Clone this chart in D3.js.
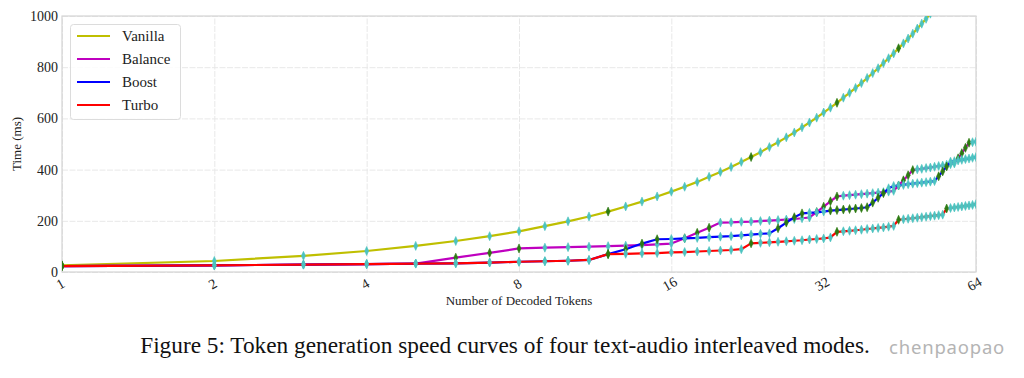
<!DOCTYPE html>
<html>
<head>
<meta charset="utf-8">
<script src="https://cdn.jsdelivr.net/npm/d3@7/dist/d3.min.js"></script>
<style>
  html, body { margin: 0; padding: 0; background: #fff; }
  svg { display: block; }
</style>
</head>
<body>
<svg id="chart" width="1024" height="378"></svg>
<script>
// ---- data ----
const tokens = d3.range(1, 65); // 1..64 decoded tokens
const xTicks = [1, 2, 4, 8, 16, 32, 64];
const yTicks = [0, 200, 400, 600, 800, 1000];
const seriesNames = ["Vanilla", "Balance", "Boost", "Turbo"];

const vanilla = [26,43,63,82,102,121,140,159,179,198,217,236,256,275,295,314,
  333,352,372,391,410,430,449,468,488,507,526,545,565,584,603,623,
  642,661,681,700,719,738,758,777,796,816,835,854,874,893,912,931,
  951,970,989,1009,1028,1047,1067,1086,1105,1124,1144,1163,1182,1202,1221,1240];
const balance = [23,26,29,31,33,56,75,92,95,97,99,101,103,105,108,111,
  132,153,173,193,194,196,197,199,201,203,205,207,210,213,234,255,
  276,295,298,300,302,304,306,308,310,312,314,317,338,358,378,398,
  401,403,406,408,411,414,416,419,421,424,444,464,485,505,507,509];
const boost = [23,26,29,31,33,34,37,40,42,44,47,70,89,111,128,129,
  131,133,136,138,140,143,146,149,151,171,193,214,229,231,233,236,
  240,242,244,246,248,250,253,271,290,308,327,336,338,340,343,345,
  347,349,351,353,355,374,393,412,431,433,436,438,441,443,446,449];
const turbo = [23,26,29,31,33,34,37,40,42,44,47,70,71,73,74,77,
  78,80,82,84,86,89,112,114,116,118,120,122,124,127,129,131,
  135,157,159,161,163,165,168,170,172,174,177,180,204,206,208,210,
  212,214,216,218,220,222,224,248,250,252,254,256,258,260,262,265];

// tokens drawn with the dark-green marker (others use the cyan marker)
const vanillaText = [1, 12, 23, 34, 45, 56];
const balanceText = [1, 6, 7, 8, 17, 18, 19, 31, 32, 33, 34, 45, 46, 47, 48, 59, 60, 61, 62];
const boostText = [1, 12, 13, 14, 15, 26, 27, 28, 29, 33, 34, 35, 36, 37, 38, 39, 40, 41, 42, 54, 55, 56];
const turboText = [1, 12, 23, 34, 45, 56];

// ---- layout ----
const svg = d3.select("#chart");
const L = 62, R = 976, T = 16, B = 272;
const x = d3.scaleLog().base(2).domain([1, 64]).range([L, R]);
const y = d3.scaleLinear().domain([0, 1000]).range([B, T]);
const serif = "'Liberation Serif', 'DejaVu Serif', serif";

const series = [
  { name: seriesNames[0], values: vanilla, text: vanillaText, color: "#bfbf00" },
  { name: seriesNames[1], values: balance, text: balanceText, color: "#bf00bf" },
  { name: seriesNames[2], values: boost, text: boostText, color: "#0000ff" },
  { name: seriesNames[3], values: turbo, text: turboText, color: "#ff0000" }
];

svg.append("defs").append("clipPath").attr("id", "plotclip")
  .append("rect").attr("x", L).attr("y", T).attr("width", R - L).attr("height", B - T);

// grid
const gx = svg.append("g").attr("transform", `translate(0,${B})`)
  .call(d3.axisBottom(x).tickValues(xTicks).tickSize(-(B - T)).tickFormat(""));
const gy = svg.append("g").attr("transform", `translate(${L},0)`)
  .call(d3.axisLeft(y).tickValues(yTicks).tickSize(-(R - L)).tickFormat(""));
[gx, gy].forEach(g => {
  g.select(".domain").remove();
  g.selectAll("line").attr("stroke", "#e8e8e8").attr("stroke-width", 1).attr("stroke-dasharray", "6,1.5");
});

// frame
svg.append("rect").attr("x", L).attr("y", T).attr("width", R - L).attr("height", B - T)
  .attr("fill", "none").attr("stroke", "#d4d4d4").attr("stroke-width", 1.2);

// tick labels
const xl = svg.append("g").attr("transform", `translate(0,${B})`)
  .call(d3.axisBottom(x).tickValues(xTicks).tickSize(0).tickPadding(6).tickFormat(d => String(d)));
xl.select(".domain").remove();
xl.selectAll("text")
  .attr("font-family", serif).attr("font-size", 14).attr("fill", "#222")
  .attr("text-anchor", "middle").attr("dy", "0.9em")
  .attr("transform", "translate(-9,0) rotate(-30)");

const yl = svg.append("g").attr("transform", `translate(${L},0)`)
  .call(d3.axisLeft(y).tickValues(yTicks).tickSize(0).tickPadding(4).tickFormat(d3.format("d")));
yl.select(".domain").remove();
yl.selectAll("text").attr("font-family", serif).attr("font-size", 14).attr("fill", "#222");

// axis titles
svg.append("text").attr("x", (L + R) / 2).attr("y", 305).attr("text-anchor", "middle")
  .attr("font-family", serif).attr("font-size", 13).attr("fill", "#222")
  .text("Number of Decoded Tokens");
svg.append("text").attr("transform", `translate(21,${(T + B) / 2}) rotate(-90)`)
  .attr("text-anchor", "middle").attr("font-family", serif).attr("font-size", 13).attr("fill", "#222")
  .text("Time (ms)");

// lines and markers
const plot = svg.append("g").attr("clip-path", "url(#plotclip)");
const line = d3.line().x((d, i) => x(tokens[i])).y(d => y(d));
const diamond = "M0,-4.5 L2,0 L0,4.5 L-2,0 Z";

series.forEach(s => {
  plot.append("path").datum(s.values)
    .attr("fill", "none").attr("stroke", s.color).attr("stroke-width", 2.2)
    .attr("stroke-linejoin", "round").attr("d", line);
  plot.append("g").selectAll("path").data(s.values).join("path")
    .attr("d", diamond)
    .attr("transform", (d, i) => `translate(${x(tokens[i])},${y(d)})`)
    .attr("fill", (d, i) => s.text.includes(tokens[i]) ? "#2d7a12" : "#4cc3c0")
    .attr("stroke", (d, i) => s.text.includes(tokens[i]) ? "#2d7a12" : "#4cc3c0")
    .attr("stroke-width", 0.6);
});

// legend
const lg = svg.append("g");
lg.append("rect").attr("x", 70.5).attr("y", 24.5).attr("width", 110).attr("height", 95)
  .attr("rx", 3).attr("fill", "#fff").attr("fill-opacity", 0.85)
  .attr("stroke", "#dcdcdc").attr("stroke-width", 1);
series.forEach((s, i) => {
  const yy = 36 + i * 23;
  lg.append("line").attr("x1", 77).attr("x2", 110).attr("y1", yy).attr("y2", yy)
    .attr("stroke", s.color).attr("stroke-width", 2.2);
  lg.append("text").attr("x", 122).attr("y", yy).attr("dy", "0.35em")
    .attr("font-family", serif).attr("font-size", 15).attr("fill", "#222").text(s.name);
});

// caption + watermark
svg.append("text").attr("x", 505).attr("y", 353).attr("text-anchor", "middle")
  .attr("font-family", serif).attr("font-size", 23.3).attr("fill", "#111")
  .text("Figure 5: Token generation speed curves of four text-audio interleaved modes.");
svg.append("text").attr("x", 889).attr("y", 354)
  .attr("font-family", "'Noto Sans', 'Open Sans', sans-serif").attr("font-size", 18.5).attr("fill", "#b4b4b4")
  .attr("letter-spacing", 0.8)
  .text("chenpaopao");
</script>
</body>
</html>
